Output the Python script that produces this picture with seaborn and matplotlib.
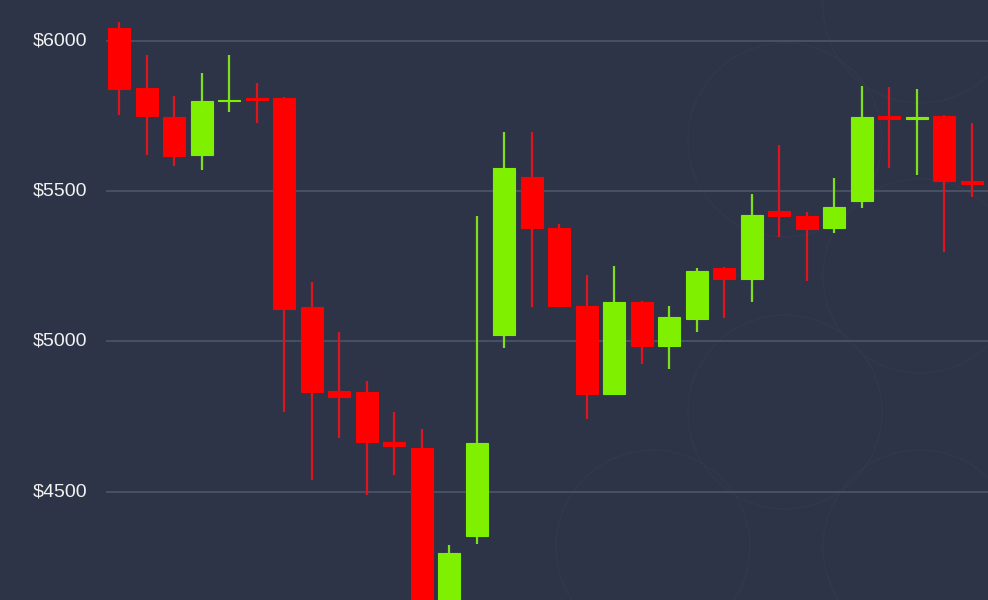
import matplotlib
matplotlib.use("Agg")
import matplotlib.pyplot as plt
from matplotlib.patches import Ellipse
import seaborn as sns
import pandas as pd

# OHLC values (one candle per period)
opens = [6043, 5844, 5747, 5621, 5801, 5810, 5810, 5115, 4836, 4832, 4666,
         4646, 4125, 4353, 5022, 5548, 5378, 5118, 4826, 5132, 4985, 5075,
         5245, 5208, 5434, 5418, 5378, 5468, 5750, 5741, 5750, 5534]
highs = [6063, 5953, 5817, 5894, 5953, 5860, 5812, 5198, 5032, 4869, 4766,
         4709, 4323, 5418, 5697, 5697, 5391, 5222, 5251, 5135, 5118, 5245,
         5248, 5491, 5654, 5431, 5544, 5850, 5847, 5840, 5752, 5727]
lows = [5754, 5621, 5584, 5571, 5764, 5727, 4766, 4540, 4679, 4490, 4556,
        4050, 4060, 4327, 4979, 5115, 5118, 4742, 4826, 4926, 4909, 5032,
        5078, 5132, 5348, 5202, 5361, 5444, 5578, 5554, 5298, 5481]
closes = [5840, 5750, 5617, 5800, 5804, 5802, 5108, 4832, 4816, 4666, 4653,
          4120, 4297, 4663, 5577, 5378, 5118, 4826, 5132, 4985, 5082, 5235,
          5208, 5421, 5418, 5375, 5448, 5747, 5741, 5747, 5534, 5524]
grid_levels = [4500, 5000, 5500, 6000]
grid_labels = ["$4500", "$5000", "$5500", "$6000"]

BG = "#2d3447"
UP = "#7ff000"
DOWN = "#ff0000"
UP_WICK = "#7fe01a"
DOWN_WICK = "#e0141c"

sns.set_theme(style="dark", rc={"axes.facecolor": BG, "figure.facecolor": BG})
plt.rcParams["font.family"] = ["Liberation Sans", "DejaVu Sans"]

df = pd.DataFrame({"open": opens, "high": highs, "low": lows, "close": closes})
df["up"] = df["close"] >= df["open"]
df["bottom"] = df[["open", "close"]].min(axis=1)
df["height"] = (df["close"] - df["open"]).abs()

fig = plt.figure(figsize=(9.88, 6.0), dpi=100)
ax = fig.add_axes([0, 0, 1, 1])
ax.set_facecolor(BG)

# faint background watermark circles (pixel based, axes fraction)
for cx, cy in [(785, 140), (785, 412), (920, 6), (920, 276), (920, 547), (653, 547)]:
    ax.add_patch(Ellipse((cx / 988, 1 - cy / 600), 2 * 97 / 988, 2 * 97 / 600,
                         transform=ax.transAxes, fill=False,
                         edgecolor="#33394d", lw=0.9, zorder=0))

# grid lines
ax.hlines(grid_levels, -0.47, 32, color="#4a5265", lw=1.3, zorder=1)
for lvl, lab in zip(grid_levels, grid_labels):
    ax.text(-1.15, lvl, lab, ha="right", va="center", color="#f2f2f2",
            fontsize=14, zorder=3)

x = df.index.to_numpy()
wick_colors = [UP_WICK if u else DOWN_WICK for u in df["up"]]
body_colors = [UP if u else DOWN for u in df["up"]]
ax.vlines(x, df["low"], df["high"], colors=wick_colors, lw=1.6, zorder=2)
ax.bar(x, df["height"], bottom=df["bottom"], width=0.8, color=body_colors,
       edgecolor=body_colors, linewidth=0.8, zorder=3)

ax.set_xlim(-4.33, 31.6)
ax.set_ylim(4140, 6136)
ax.set_xticks([])
ax.set_yticks([])
ax.grid(False)
for s in ax.spines.values():
    s.set_visible(False)

fig.savefig("out.png", dpi=100, facecolor=BG)
